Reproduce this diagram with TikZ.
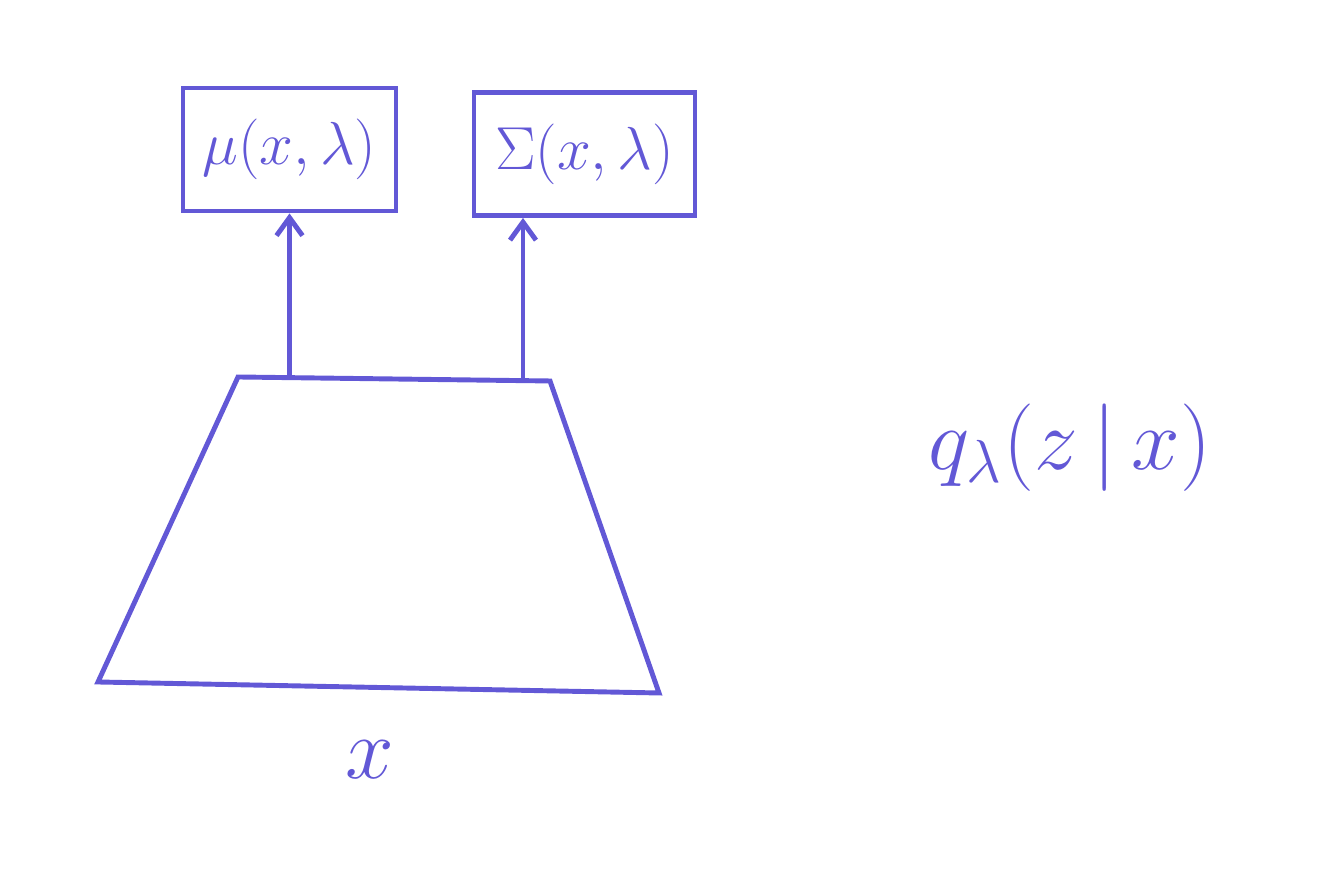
\documentclass[tikz,border=0pt]{standalone}
\usepackage{amsmath}
\usetikzlibrary{arrows.meta}
\definecolor{penblue}{RGB}{98,88,214}
\begin{document}
\begin{tikzpicture}
                    \tikzset{every node/.style={text=penblue}}
                    \tikzset{outbox/.style={draw=penblue, line width=1.4pt, minimum height=1.23cm, inner sep=1pt}}
                    \tikzset{pen/.style={draw=penblue, line width=1.4pt}}
                    \useasboundingbox (0,0) rectangle (13.17,8.73);
                    % output boxes
                    \node[outbox, minimum width=2.13cm] (mu) at (2.895,7.235) {\fontsize{18}{22}\selectfont $\mu(x,\lambda)$};
                    \node[outbox, minimum width=2.21cm] (sigma) at (5.845,7.19) {\fontsize{18}{22}\selectfont $\Sigma(x,\lambda)$};
                    % encoder
                    \coordinate (tl) at (2.38,4.96);
                    \coordinate (tr) at (5.50,4.92);
                    \coordinate (br) at (6.59,1.80);
                    \coordinate (bl) at (0.98,1.91);
                    \draw[pen] (tl) -- (tr) -- (br) -- (bl) -- cycle;
                    \coordinate (outmu) at (2.895,4.955);
                    \coordinate (outsigma) at (5.23,4.93);
                    \draw[pen, -{Straight Barb[length=1.8mm,width=2.6mm]}] (outmu) -- (mu.south);
                    \draw[pen, -{Straight Barb[length=1.8mm,width=2.6mm]}] (outsigma) -- (outsigma |- sigma.south);
                    \node (input) at (3.70,1.13) {\fontsize{24}{28}\selectfont $x$};
                    \node (post) at (10.70,4.25) {\fontsize{25}{29}\selectfont $q_{\lambda}(z\,|\,x)$};
                    \end{tikzpicture}
\end{document}
